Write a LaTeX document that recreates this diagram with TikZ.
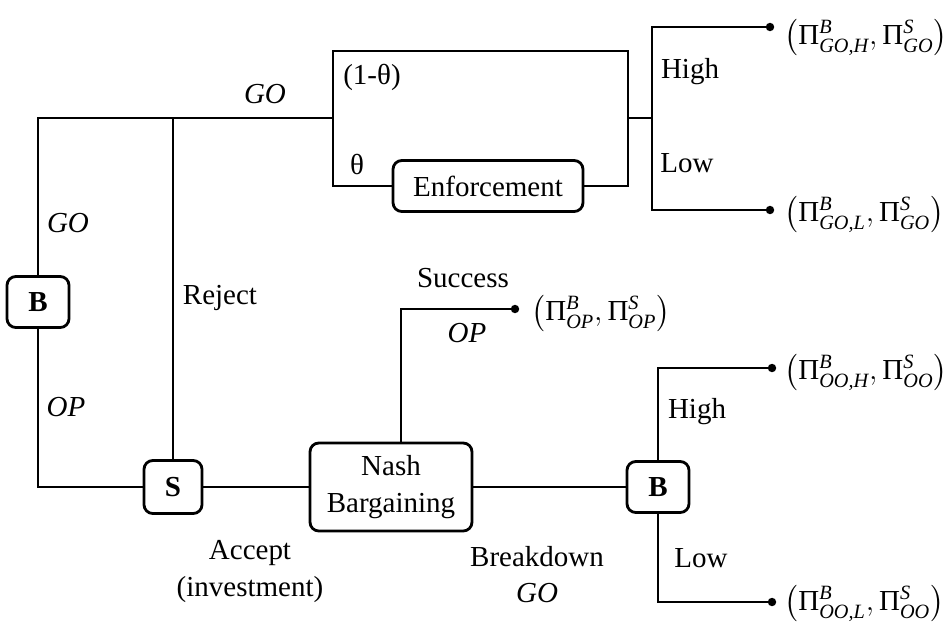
\documentclass[tikz,border=0pt]{standalone}
\usepackage{amsmath}
\usepackage{fontspec}
\setmainfont{Liberation Serif}
\usepackage{tikz}

\tikzset{
  box/.style={draw, rounded corners=5pt, fill=white, align=center, inner sep=0pt},
  lbl/.style={inner sep=0pt},
  pay/.style={anchor=west, inner sep=0pt, font=\fontsize{16.5}{20}\selectfont},
}
\newcommand{\payoff}[2]{$\bigl(\text{Π}^{\textit{B}}_{\textit{#1}},\text{Π}^{\textit{S}}_{\textit{#2}}\bigr)$}

\begin{document}
\begin{tikzpicture}[x=0.02cm, y=-0.02cm, line width=1.6pt, font=\fontsize{16.5}{21}\selectfont]
	\useasboundingbox (0,0) rectangle (950,629);
	
	% Players and stages
	\node[box, minimum width=1.24cm, minimum height=1.02cm] (b1) at (38,302) {\textbf{B}};
	\node[box, minimum width=1.16cm, minimum height=1.06cm] (s1) at (173,487) {\textbf{S}};
	\node[box, minimum width=3.24cm, minimum height=1.76cm] (nash) at (391,487) {Nash\\Bargaining};
	\node[box, minimum width=1.24cm, minimum height=1.02cm] (b2) at (658,487) {\textbf{B}};
	\node[box, minimum width=3.8cm, minimum height=1.02cm] (enf) at (488,186) {Enforcement};
	
	% Junctions
	\coordinate (go1) at (38,118);
	\coordinate (rej) at (173,118);
	\coordinate (c1) at (333,118);
	\coordinate (t2) at (628,51);
	\coordinate (c2) at (628,118);
	\coordinate (c3) at (652,118);
	\coordinate (sc) at (401,309);
	
	% End points
	\coordinate (eGH) at (770,27);
	\coordinate (eGL) at (770,210);
	\coordinate (eOP) at (515,309);
	\coordinate (eOH) at (772,368);
	\coordinate (eOL) at (772,602);
	
	% Tree
	\draw (b1.north) -- (go1) -- (c1);
	\draw (b1.south) |- (s1.west);
	\draw (rej) -- (s1.north);
	\draw (s1) -- (nash) -- (b2);
	\draw (enf.west) -| (c1) |- (t2) -- (t2 |- enf.east) -- (enf.east);
	\draw (c2) -- (c3);
	\draw (eGH) -| (c3) |- (eGL);
	\draw (nash.north -| sc) -- (sc) -- (eOP);
	\draw (eOH) -| (b2.north);
	\draw (b2.south) |- (eOL);
	\foreach \e in {eGH,eGL,eOP,eOH,eOL}
		\fill (\e) circle (2.4pt);
	
	% Branch labels
	\node[lbl] (lgo) at (265,94) {\textit{GO}};
	\node[lbl] (lth1) at (372,77) {(1-θ)};
	\node[lbl] (lth) at (357,165) {θ};
	\node[lbl] (lhi1) at (690,72) {High};
	\node[lbl] (llo1) at (687,163) {Low};
	\node[lbl] (lgoL) at (68,223) {\textit{GO}};
	\node[lbl] (lopL) at (66,407) {\textit{OP}};
	\node[lbl] (lrej) at (220,298) {Reject};
	\node[lbl] (lsuc) at (463,278) {Success};
	\node[lbl] (lopS) at (467,333) {\textit{OP}};
	\node[lbl] (lhi2) at (697,412) {High};
	\node[lbl] (llo2) at (701,558) {Low};
	\node[lbl] (lacc) at (250,553) {Accept};
	\node[lbl] (linv) at (250,590) {(investment)};
	\node[lbl] (lbrk) at (537,557) {Breakdown};
	\node[lbl] (lgoB) at (537,593) {\textit{GO}};
	
	% Payoffs
	\node[pay] (pGH) at (783,37) {\payoff{GO,H}{GO}};
	\node[pay] (pGL) at (783,214) {\payoff{GO,L}{GO}};
	\node[pay] (pOP) at (530,313) {\payoff{OP}{OP}};
	\node[pay] (pOH) at (783,372) {\payoff{OO,H}{OO}};
	\node[pay] (pOL) at (783,603) {\payoff{OO,L}{OO}};
\end{tikzpicture}
\end{document}
